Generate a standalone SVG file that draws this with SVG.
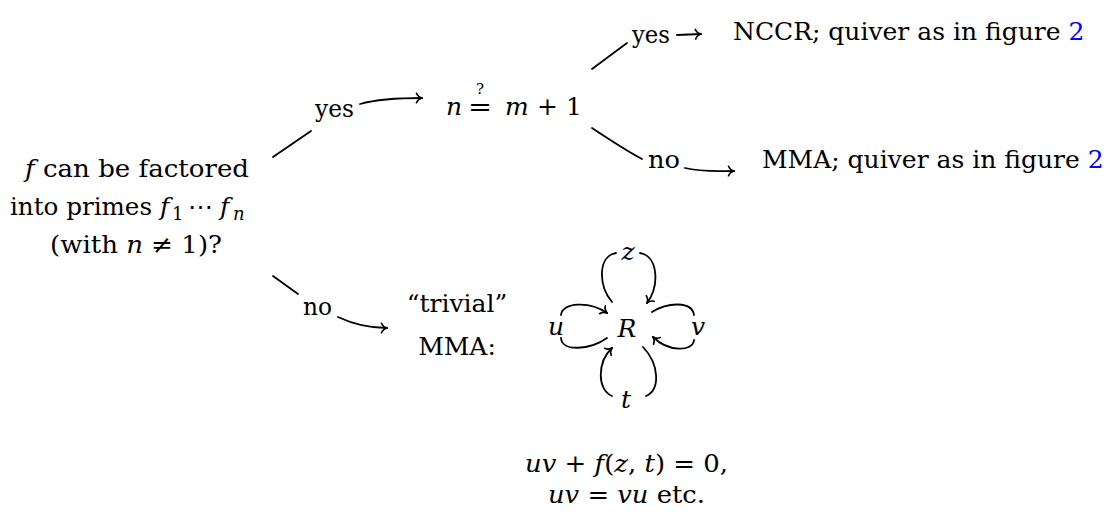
<svg xmlns="http://www.w3.org/2000/svg" width="1105" height="517" viewBox="0 0 1105 517">
<style>
text{font-family:'DejaVu Serif','Liberation Serif',serif;font-size:25px;fill:#000}
.i{font-style:italic}
.sub{font-size:18px}
.c{stroke:#000;stroke-width:1.8;fill:none;stroke-linecap:round}
.blue{fill:#0000ff}
</style>
<defs>
<marker id="ah" viewBox="-7 -6 8 12" markerWidth="8" markerHeight="12" refX="0" refY="0" orient="auto" markerUnits="userSpaceOnUse">
<path d="M-5.5,-4.8 C-4.5,-2 -1.8,-0.5 0,0 C-1.8,0.5 -4.5,2 -5.5,4.8" fill="none" stroke="#000" stroke-width="1.6" stroke-linecap="round"/>
</marker>
</defs>
<rect width="1105" height="517" fill="#fff"/>
<g id="connectors">
<path class="c" d="M273,157 L311,131 M360,104 C378,99 398,98 422,98" marker-end="url(#ah)"/>
<path class="c" d="M592,69 L627,43 M677,35 L701,34" marker-end="url(#ah)"/>
<path class="c" d="M592,128 C610,140 625,150 642,159 M685,168 C700,172 715,171 734,171" marker-end="url(#ah)"/>
<path class="c" d="M273,276 L298,294 M338,317 C355,325 370,328 387,328" marker-end="url(#ah)"/>
<path class="c" d="M612,302 C598,285 598,256 616,253 M640,253 C658,256 660,285 647,303" marker-end="url(#ah)"/>
<path class="c" d="M607,338 C590,350 562,352 561,338 M561,315 C562,302 590,301 607,313" marker-end="url(#ah)"/>
<path class="c" d="M652,312 C668,302 692,301 694,315 M694,340 C693,352 668,352 653,337" marker-end="url(#ah)"/>
<path class="c" d="M643,347 C660,365 660,390 646,396 M612,396 C597,390 597,362 612,348" marker-end="url(#ah)"/>
</g>
<g id="question">
<text x="25" y="177" textLength="224" lengthAdjust="spacingAndGlyphs"><tspan class="i">f</tspan> can be factored</text>
<text y="215"><tspan x="10" textLength="142" lengthAdjust="spacingAndGlyphs">into primes</tspan><tspan x="160" class="i">f</tspan><tspan x="172" y="220" class="sub">1</tspan><tspan x="200" y="215" text-anchor="middle">⋯</tspan><tspan x="220" class="i">f</tspan><tspan x="233" y="220" class="sub i">n</tspan></text>
<text x="50" y="253" textLength="172" lengthAdjust="spacingAndGlyphs">(with <tspan class="i">n</tspan> ≠ 1)?</text>
</g>
<g id="label-yes1"><text x="315" y="117" textLength="39" lengthAdjust="spacingAndGlyphs">yes</text></g>
<g id="label-no1"><text x="303" y="315" textLength="29" lengthAdjust="spacingAndGlyphs">no</text></g>
<g id="test">
<text y="115"><tspan x="446" class="i">n</tspan><tspan x="468" textLength="24" lengthAdjust="spacingAndGlyphs">=</tspan><tspan x="476" y="94" style="font-size:15px">?</tspan><tspan x="505" y="115" class="i">m</tspan><tspan x="537">+</tspan><tspan x="566">1</tspan></text>
</g>
<g id="label-yes2"><text x="632" y="43" textLength="38" lengthAdjust="spacingAndGlyphs">yes</text></g>
<g id="label-no2"><text x="648" y="168" textLength="32" lengthAdjust="spacingAndGlyphs">no</text></g>
<g id="nccr"><text x="733" y="40">NCCR; quiver as in figure <tspan class="blue">2</tspan></text></g>
<g id="mma"><text x="762" y="168">MMA; quiver as in figure <tspan class="blue">2</tspan></text></g>
<g id="trivial">
<text x="457" y="312" text-anchor="middle">“trivial”</text>
<text x="457" y="355" text-anchor="middle">MMA:</text>
</g>
<g id="quiver">
<text x="627" y="337" text-anchor="middle" class="i">R</text>
<text x="556" y="335" text-anchor="middle" class="i">u</text>
<text x="698" y="335" text-anchor="middle" class="i">v</text>
<text x="628" y="260" text-anchor="middle" class="i">z</text>
<text x="626" y="408" text-anchor="middle" class="i">t</text>
</g>
<g id="relations">
<text x="525" y="472" textLength="203" lengthAdjust="spacingAndGlyphs"><tspan class="i">uv</tspan> + <tspan class="i">f</tspan>(<tspan class="i">z</tspan>, <tspan class="i">t</tspan>) = 0,</text>
<text x="548" y="503" textLength="157" lengthAdjust="spacingAndGlyphs"><tspan class="i">uv</tspan> = <tspan class="i">vu</tspan> etc.</text>
</g>
</svg>
